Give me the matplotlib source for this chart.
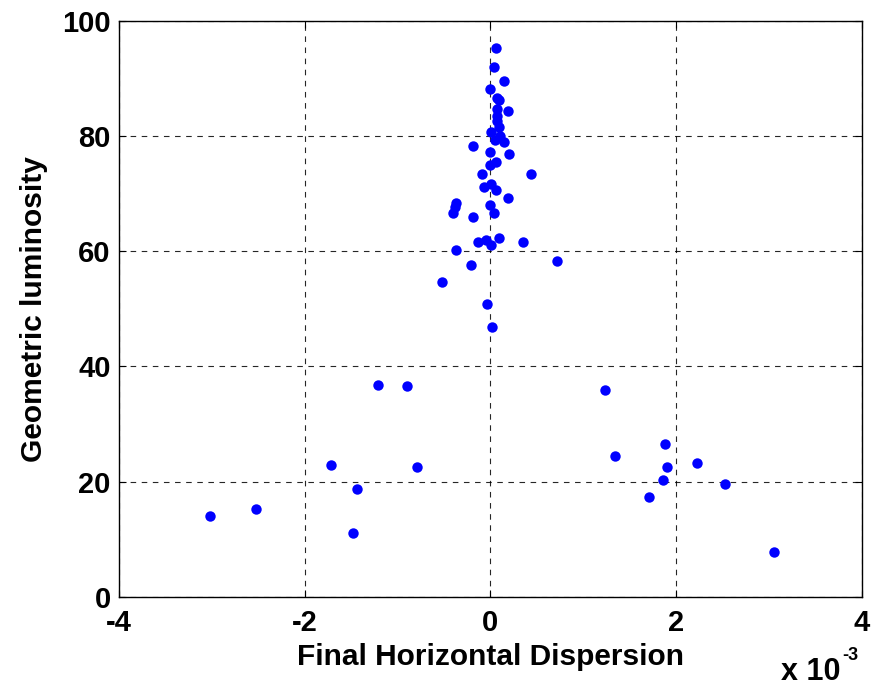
import numpy as np
import matplotlib
matplotlib.use("Agg")
import matplotlib.pyplot as plt

plt.rcParams["font.family"] = ["Liberation Sans", "DejaVu Sans"]
plt.rcParams["font.weight"] = "bold"

# Final horizontal dispersion (units of 1e-3) and geometric luminosity
disp_e3 = [
    0.061, 0.040, 0.151, 0.000, 0.072, 0.094, 0.072, 0.186, 0.072, 0.072,
    0.094, 0.011, 0.108, 0.054, 0.151, -0.186, 0.000, 0.202, 0.057, -0.003,
    -0.094, 0.442, -0.072, 0.008, 0.057, 0.186, -0.366, -0.385, -0.406, 0.000,
    0.040, -0.186, 0.089, -0.133, -0.051, 0.003, 0.352, -0.370, 0.719, -0.205,
    -0.517, -0.036, 0.018,
    1.232, 1.347, 1.883, 1.900, 2.227, 1.861, 2.525, 1.713, 3.060,
    -1.214, -0.902, -1.713, -0.794, -1.436, -2.522, -3.020, -1.476,
]
luminosity = [
    95.3, 92.0, 89.6, 88.1, 86.6, 86.2, 84.6, 84.3, 83.4, 82.5,
    81.6, 80.7, 80.0, 79.3, 78.9, 78.3, 77.2, 76.9, 75.4, 75.0,
    73.3, 73.3, 71.2, 71.6, 70.6, 69.2, 68.3, 67.7, 66.7, 68.0,
    66.7, 65.9, 62.3, 61.5, 61.9, 61.1, 61.5, 60.2, 58.3, 57.5,
    54.6, 50.8, 46.9,
    35.9, 24.4, 26.5, 22.6, 23.2, 20.3, 19.6, 17.3, 7.8,
    36.8, 36.5, 22.9, 22.6, 18.7, 15.2, 14.0, 11.0,
]

x_ticks = [-4, -2, 0, 2, 4]
y_ticks = [0, 20, 40, 60, 80, 100]

fig = plt.figure(figsize=(8.77, 6.85), dpi=100)
ax = fig.add_axes([0.1357, 0.1289, 0.8468, 0.8409])

ax.plot(disp_e3, luminosity, "o", color="#0000ff", markersize=7.5,
        markeredgewidth=0, zorder=3)

ax.set_xlim(-4, 4)
ax.set_ylim(0, 100)
ax.set_xticks(x_ticks)
ax.set_yticks(y_ticks)
ax.set_xticklabels([str(t) for t in x_ticks])
ax.set_yticklabels([str(t) for t in y_ticks])

ax.grid(True, color="black", linestyle=(0, (5, 5)), linewidth=0.8, alpha=0.85)
ax.tick_params(direction="in", length=5, width=0.8, top=True, right=True,
               labelsize=21)
ax.tick_params(axis="x", pad=9)
ax.tick_params(axis="y", pad=6)
for lab in ax.get_xticklabels() + ax.get_yticklabels():
    lab.set_fontweight("bold")
for sp in ax.spines.values():
    sp.set_linewidth(1.0)

ax.set_xlabel("Final Horizontal Dispersion", fontsize=21.5, fontweight="bold",
              labelpad=4)
ax.set_ylabel("Geometric luminosity", fontsize=21.5, fontweight="bold",
              labelpad=10)

# exponent label below the x axis, as in the MATLAB export
fig.text(0.891, 0.008, "x 10", fontsize=22, fontweight="bold", ha="left",
         va="baseline")
fig.text(0.960, 0.037, "-3", fontsize=13, fontweight="bold", ha="left",
         va="baseline")

fig.savefig("out.png", dpi=100)
